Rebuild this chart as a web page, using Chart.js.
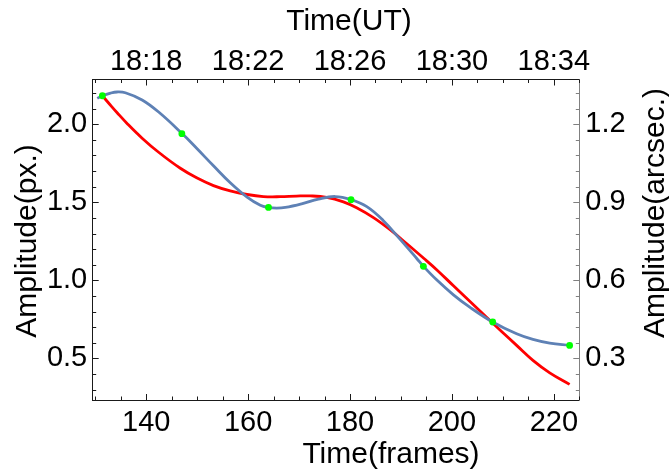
<!DOCTYPE html>
<html>
<head>
<meta charset="utf-8">
<script src="https://cdn.jsdelivr.net/npm/chart.js@4.4.1/dist/chart.umd.min.js"></script>
<style>
html, body { margin: 0; padding: 0; background: #fff; }
canvas { display: block; }
</style>
</head>
<body>
<canvas id="amp-chart" width="669" height="470"></canvas>
<script>
// measured amplitudes (green dots)
const obsFrames = [131.4, 147.0, 164.0, 180.2, 194.4, 208.0, 223.1];
const obsAmp    = [2.183, 1.940, 1.467, 1.517, 1.090, 0.733, 0.583];

const splineFrames = [130.4, 131.4, 133.0, 134.3, 135.9, 139.2, 142.5, 147.0, 149.9, 153.2, 156.5,
                      159.8, 162.4, 164.0, 165.6, 167.3, 170.5, 173.8, 177.1, 180.2, 183.3, 186.5,
                      189.8, 193.1, 194.4, 197.0, 200.3, 203.5, 208.0, 212.7, 215.9, 219.2, 223.1];
const splineAmp    = [2.166, 2.183, 2.200, 2.207, 2.202, 2.156, 2.077, 1.942, 1.846, 1.734, 1.625,
                      1.533, 1.481, 1.467, 1.463, 1.467, 1.490, 1.521, 1.537, 1.517, 1.472, 1.384,
                      1.264, 1.140, 1.090, 1.003, 0.907, 0.828, 0.733, 0.657, 0.621, 0.597, 0.583];

// fitted curve (red)
const fitFrames = [131.4, 133.0, 134.3, 136.2, 139.2, 142.5, 146.7, 149.9, 153.2, 156.5, 159.8,
                   163.0, 166.3, 169.5, 172.2, 175.4, 178.7, 181.3, 184.6, 187.8, 191.1, 194.4,
                   197.0, 200.3, 203.5, 206.8, 209.8, 212.7, 215.9, 219.2, 223.1];
const fitAmp    = [2.183, 2.122, 2.074, 2.007, 1.911, 1.819, 1.718, 1.657, 1.607, 1.573, 1.550,
                   1.537, 1.536, 1.540, 1.541, 1.532, 1.503, 1.465, 1.402, 1.326, 1.236, 1.143,
                   1.068, 0.965, 0.866, 0.764, 0.671, 0.583, 0.487, 0.407, 0.333];

// axes
const frameMin = 129.5, frameMax = 225;
const ampMin = 0.233, ampMax = 2.287;
const arcsecPerPx = 0.6;
const frameLabels = [140, 160, 180, 200, 220];
const timeLabels = ['18:18', '18:22', '18:26', '18:30', '18:34'];
const pxLabels = [0.5, 1.0, 1.5, 2.0];
const arcLabels = [0.3, 0.6, 0.9, 1.2];

const FONT = "'Liberation Sans', Arial, sans-serif";
const near = (v, list) => list.findIndex(l => Math.abs(l - v) < 1e-6);
const pts = (xs, ys) => xs.map((x, i) => ({ x: x, y: ys[i] }));

// inward ticks + axis titles
const framePlugin = {
    id: 'framePlugin',
    afterDraw(chart) {
        const ctx = chart.ctx;
        const area = chart.chartArea;
        const sets = [
            [chart.scales.x, frameLabels, '#1a1a1a'],
            [chart.scales.x2, frameLabels, '#1a1a1a'],
            [chart.scales.y, pxLabels, '#1a1a1a'],
            [chart.scales.y2, arcLabels, '#808080']
        ];
        ctx.save();
        ctx.lineWidth = 1;
        sets.forEach(([scale, majors, color]) => {
            ctx.strokeStyle = color;
            scale.ticks.forEach(t => {
                const p = Math.round(scale.getPixelForValue(t.value)) + 0.5;
                const len = near(t.value, majors) >= 0 ? 6 : 3.5;
                ctx.beginPath();
                if (scale.position === 'bottom') { ctx.moveTo(p, area.bottom); ctx.lineTo(p, area.bottom - len); }
                if (scale.position === 'top') { ctx.moveTo(p, area.top); ctx.lineTo(p, area.top + len); }
                if (scale.position === 'left') { ctx.moveTo(area.left, p); ctx.lineTo(area.left + len, p); }
                if (scale.position === 'right') { ctx.moveTo(area.right, p); ctx.lineTo(area.right - len, p); }
                ctx.stroke();
            });
        });

        ctx.fillStyle = '#000';
        ctx.font = '30px ' + FONT;
        ctx.textAlign = 'center';
        ctx.textBaseline = 'alphabetic';
        ctx.fillText('Time(UT)', 349, 29.5);
        ctx.fillText('Time(frames)', 391, 463);
        [['Amplitude(px.)', 36, 241], ['Amplitude(arcsec.)', 663.5, 213]].forEach(([txt, x, y]) => {
            ctx.save();
            ctx.translate(x, y);
            ctx.rotate(-Math.PI / 2);
            ctx.fillText(txt, 0, 0);
            ctx.restore();
        });
        ctx.restore();
    }
};

const tickFont = { family: FONT, size: 29 };
const noGrid = { display: false, drawTicks: false, tickLength: 0 };

new Chart(document.getElementById('amp-chart'), {
    type: 'scatter',
    data: {
        datasets: [
            {
                label: 'Measured',
                data: pts(obsFrames, obsAmp),
                backgroundColor: '#00ff00',
                borderWidth: 0,
                pointRadius: 3.4,
                showLine: false
            },
            {
                label: 'Spline',
                data: pts(splineFrames, splineAmp),
                borderColor: '#5e81b5',
                borderWidth: 2.8,
                pointRadius: 0,
                showLine: true,
                tension: 0.4
            },
            {
                label: 'Fit',
                data: pts(fitFrames, fitAmp),
                borderColor: '#ff0000',
                borderWidth: 2.8,
                pointRadius: 0,
                showLine: true,
                tension: 0.4
            }
        ]
    },
    options: {
        responsive: false,
        animation: false,
        devicePixelRatio: 1,
        layout: { padding: 0 },
        plugins: { legend: { display: false }, tooltip: { enabled: false } },
        scales: {
            x: {
                type: 'linear', position: 'bottom', min: frameMin, max: frameMax,
                grid: noGrid,
                border: { display: true, color: '#1a1a1a', width: 1 },
                ticks: {
                    stepSize: 5, autoSkip: false, includeBounds: false, maxRotation: 0, minRotation: 0,
                    padding: 6, color: '#000', font: tickFont,
                    callback: v => near(v, frameLabels) >= 0 ? String(v) : ''
                },
                afterFit(s) { s.height = 70; }
            },
            x2: {
                type: 'linear', position: 'top', min: frameMin, max: frameMax,
                grid: noGrid,
                border: { display: true, color: '#1a1a1a', width: 1 },
                ticks: {
                    stepSize: 5, autoSkip: false, includeBounds: false, maxRotation: 0, minRotation: 0,
                    padding: 0, color: '#000', font: tickFont,
                    callback: v => { const i = near(v, frameLabels); return i >= 0 ? timeLabels[i] : ''; }
                },
                afterFit(s) { s.height = 79.5; }
            },
            y: {
                type: 'linear', position: 'left', min: ampMin, max: ampMax,
                grid: noGrid,
                border: { display: true, color: '#1a1a1a', width: 1 },
                ticks: {
                    stepSize: 0.1, autoSkip: false, includeBounds: false,
                    padding: 5.5, color: '#000', font: tickFont,
                    callback: v => near(v, pxLabels) >= 0 ? v.toFixed(1) : ''
                },
                afterFit(s) { s.width = 92.7; }
            },
            y2: {
                type: 'linear', position: 'right', min: ampMin * arcsecPerPx, max: ampMax * arcsecPerPx,
                grid: noGrid,
                border: { display: true, color: '#808080', width: 1 },
                ticks: {
                    stepSize: 0.06, autoSkip: false, includeBounds: false,
                    padding: 6, color: '#000', font: tickFont,
                    callback: v => near(v, arcLabels) >= 0 ? v.toFixed(1) : ''
                },
                afterFit(s) { s.width = 89.7; }
            }
        }
    },
    plugins: [framePlugin]
});
</script>
</body>
</html>
